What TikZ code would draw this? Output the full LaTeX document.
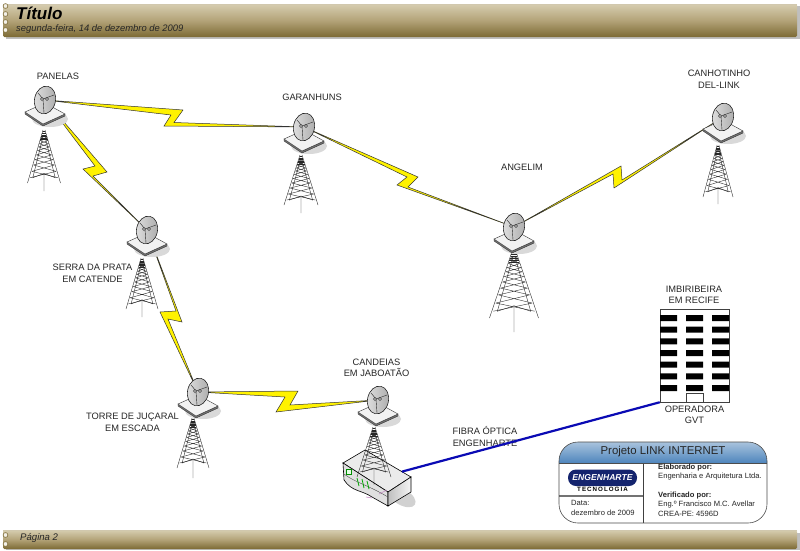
\documentclass[tikz,border=0pt]{standalone}
\usepackage{fontspec}
\setmainfont{Liberation Sans}
\usetikzlibrary{shapes.geometric}
\pgfdeclarelayer{fg}
\pgfsetlayers{main,fg}
\definecolor{txt}{HTML}{262626}
\definecolor{boltyel}{HTML}{FFF200}
\definecolor{bandtop}{HTML}{D6CDB0}
\definecolor{bandmid}{HTML}{B3A378}
\definecolor{bandbot}{HTML}{7C6A34}
\definecolor{lnkblue}{HTML}{0A0AB4}
\definecolor{hdrtop}{HTML}{A9C3DD}
\definecolor{hdrbot}{HTML}{4C84BC}
\definecolor{logoblue}{HTML}{14246E}
\tikzset{
  lbl/.style={font=\fontsize{9.3}{11.5}\selectfont,text=txt,align=center,inner sep=0pt},
  small/.style={font=\fontsize{7.6}{9.2}\selectfont,text=txt,align=left,inner sep=0pt,anchor=west},
  dish/.style={ellipse,draw=black!85,line width=.6pt,minimum width=21pt,minimum height=28pt,inner sep=0pt,
    rotate=-12,left color=gray!25,right color=gray!65},
  boltline/.style={fill=boltyel,draw=black!80,line width=.5pt,line join=miter},
  towerline/.style={draw=black!85,line width=.38pt},
  band/.style={top color=bandtop,bottom color=bandbot,middle color=bandmid,rounded corners=1.5pt},
  ring/.style={draw=bandbot,fill=white!70!bandtop,line width=.6pt},
}
% #1 name, #2 x, #3 y
\newcommand\dishat[3]{%
  \begin{pgfonlayer}{fg}
  \fill[black!15] (#2+5,#3+19) ellipse (18 and 8);
  \filldraw[draw=black!80,fill=black!55,line width=.4pt] (#2-20,#3+12)--(#2-2,#3+24)--(#2+20,#3+14)--(#2+20,#3+16)--(#2-2,#3+26)--(#2-20,#3+14)--cycle;
  \filldraw[draw=black!80,fill=white!95!black,line width=.4pt] (#2-20,#3+12)--(#2,#3+3)--(#2+20,#3+14)--(#2-2,#3+24)--cycle;
  \node[dish] (#1) at (#2,#3) {};
  \draw[black!85,line width=.4pt] (#2-2,#3-1)--(#2-7,#3-7) (#2-2,#3-1)--(#2+9,#3-5) (#2-2,#3-1)--(#2-1,#3+13);
  \draw[black!85,line width=.4pt,fill=white] (#2-3,#3-1) circle (1.5) (#2+2,#3-1) circle (1.5);
  \end{pgfonlayer}}
% #1 apex x, #2 apex y, #3 half width, #4 height, #5 foot below base
\newcommand\towerat[5]{%
  \begin{scope}[shift={(#1,#2)},xscale=#3,yscale=#4]
    \draw[towerline] (-.06,0)--(-1,1) (.06,0)--(1,1) (0,.82)--(0,1+#5/#4);
    \draw[towerline] (-.04,.1)--(-.68,.9)--(0,.82) (.04,.1)--(.68,.9)--(0,.82);
    \foreach \a/\b in {.10/.15,.15/.20,.20/.26,.26/.32,.32/.39,.39/.47,.47/.56,.56/.66,.66/.78,.78/.9}{
      \draw[towerline] (-\a*.88-.05,\a)--(\b*.88+.05,\b) (\a*.88+.05,\a)--(-\b*.88-.05,\b);
    }
    \foreach \a in {.03,.06,.09,.12,.15,.18}{\draw[towerline] (-.06-\a*.88,\a)--(.06+\a*.88,\a);}
  \end{scope}}
% #1 and #2 the two ends; #3 to #6 the four corners of the zigzag
\newcommand\bolt[6]{\draw[boltline] (#1.center)--#3--#4--(#2.center)--#5--#6--cycle;}
\begin{document}
\begin{tikzpicture}[x=1pt,y=-1pt]
\useasboundingbox (0,0) rectangle (800,550);
\fill[white] (0,0) rectangle (800,550);
% header and footer bands
\fill[black!25] (6,6) rectangle (800,39);
\shade[band] (3,4) rectangle (797,37);
\draw[bandmid!60!white,line width=.8pt] (3,4)--(797,4);
\foreach \y in {6,14,22,30}{\draw[ring] (5.5,\y) circle (2.4);}
\node[inner sep=0pt,anchor=west,font=\fontsize{17}{20}\selectfont\bfseries\itshape,text=black] (titulo) at (16,13) {Título};
\node[inner sep=0pt,anchor=west,font=\fontsize{9.4}{11}\selectfont\itshape,text=txt] (data) at (16,29) {segunda-feira, 14 de dezembro de 2009};
\fill[black!25] (6,533) rectangle (800,550);
\shade[band] (3,530) rectangle (797,549);
\draw[bandmid!60!white,line width=.8pt] (3,530)--(797,530);
\foreach \y in {535,544}{\draw[ring] (5.5,\y) circle (2.4);}
\node[inner sep=0pt,anchor=west,font=\fontsize{9.6}{11}\selectfont\itshape,text=txt] (pagina) at (20,538) {Página 2};
% towers
\towerat{44}{130}{16.5}{53}{8}
\towerat{301}{155}{17}{50}{8}
\towerat{514}{250}{24.5}{68}{14}
\towerat{718}{145}{15}{52}{7}
\towerat{142}{258}{16}{51}{8}
\towerat{193}{418}{16}{50}{10}
% dishes
\dishat{panelas}{45}{100}
\dishat{garanhuns}{304}{127}
\dishat{angelim}{514}{227}
\dishat{canhotinho}{723}{117}
\dishat{serra}{147}{230}
\dishat{jucaral}{198}{392}
\dishat{candeias}{378}{400}
% radio links
\bolt{panelas}{garanhuns}{(183,110)}{(174,122.5)}{(164,126)}{(171,115)}
\bolt{garanhuns}{angelim}{(418,177)}{(408,187)}{(397,185)}{(407,177)}
\bolt{angelim}{canhotinho}{(621,166)}{(622,180)}{(614,188)}{(613,174)}
\bolt{panelas}{serra}{(107,172)}{(93,176)}{(83,169)}{(95,166)}
\bolt{serra}{jucaral}{(182,322)}{(168,319)}{(160,312)}{(176,311)}
\bolt{jucaral}{candeias}{(298,391)}{(290,405)}{(276,412)}{(285,397)}
% router
\fill[black!18,rotate around={-30:(402,497)}] (402,497) ellipse (15 and 8);
\filldraw[draw=black,line width=.6pt,fill=white!92!black] (343,463)--(365,450)--(411,477)--(388,492)--cycle;
\filldraw[draw=black,line width=.6pt,fill=black!12] (343,463)--(388,492)--(388,506)--(372,497) .. controls (362,490) and (352,492) .. (344,480)--cycle;
\shade[left color=black!25,right color=black!4,draw=black,line width=.6pt] (388,492)--(411,477)--(411,492)--(388,506)--cycle;
\draw[black!70,line width=.4pt] (344,474) .. controls (356,483) and (366,484) .. (388,497);
\draw[violet!45,line width=.6pt] (366,497)--(372,498) (379,494)--(387,490);
\draw[green!55!black,line width=.6pt,fill=green!10] (346,469) rectangle (351,474);
\draw[green!65!black,line width=.8pt] (357,478)--(359,486) (362,479)--(364,488) (367,481)--(369,489);
\coordinate (router) at (402,471.6);
\towerat{374}{427}{17}{50}{8}
% building
\node[draw=black!75,fill=white,line width=.5pt,minimum width=69pt,minimum height=93pt,inner sep=0pt] (building) at (694.5,355.5) {};
\foreach \y in {315,326.7,338.4,350,361.7,373.4,385}{
  \fill[black] (660,\y) rectangle (677,\y+6) (686,\y) rectangle (703,\y+6) (712,\y) rectangle (729,\y+6);}
\draw[black!75,line width=.5pt] (686,402)--(686,393)--(703,393)--(703,402);
% labels
\node[lbl] (lpan) at (58,76) {PANELAS};
\node[lbl] (lgar) at (312,97) {GARANHUNS};
\node[lbl] (lang) at (522,167) {ANGELIM};
\node[lbl] (lcan) at (719,79) {CANHOTINHO\\DEL-LINK};
\node[lbl] (lser) at (92.5,273.5) {SERRA DA PRATA\\EM CATENDE};
\node[lbl] (ljuc) at (132.5,422.5) {TORRE DE JUÇARAL\\EM ESCADA};
\node[lbl] (lcnd) at (376.5,368) {CANDEIAS\\EM JABOATÃO};
\node[lbl] (limb) at (694,295) {IMBIRIBEIRA\\EM RECIFE};
\node[lbl] (lope) at (694.5,415) {OPERADORA\\GVT};
\node[lbl] (lfib) at (485,436.5) {FIBRA ÓPTICA\\ENGENHARTE};
% fibre link
\draw[lnkblue,line width=2.2pt] (router)--(building.south west);
% title block
\fill[white] (559,442) [rounded corners=19pt] rectangle (767,523);
\begin{scope}
  \clip[rounded corners=19pt] (559,442) rectangle (767,523);
  \shade[top color=hdrtop,bottom color=hdrbot] (559,442) rectangle (767,463.5);
  \draw[black!70,line width=.6pt] (559,463.5)--(767,463.5);
  \draw[black!55,line width=1.1pt] (559,496)--(643,496);
\end{scope}
\draw[black!75,line width=.6pt] (643,463.5)--(643,523);
\draw[black!70,line width=.6pt,rounded corners=19pt] (559,442) rectangle (767,523);
\node[inner sep=0pt,font=\fontsize{11.4}{13}\selectfont,text=txt] (lproj) at (663,452) {Projeto LINK INTERNET};
\node[small] (t1) at (658,468) {\textbf{Elaborado por:}};
\node[small] (t2) at (658,477) {Engenharia e Arquitetura Ltda.};
\node[small] (t3) at (658,496) {\textbf{Verificado por:}};
\node[small] (t4) at (658,505) {Eng.º Francisco M.C. Avellar};
\node[small] (t5) at (658,514) {CREA-PE: 4596D};
\node[small] (t6) at (571,503) {Data:};
\node[small] (t7) at (571,513) {dezembro de 2009};
\fill[logoblue] (568,469.5) [rounded corners=8pt] rectangle (637,486);
\node[inner sep=0pt,font=\fontsize{8.6}{10}\selectfont\bfseries\itshape,text=white] (logo) at (602.5,478) {ENGENHARTE};
\node[inner sep=0pt,font=\fontsize{6.2}{7}\selectfont\bfseries,text=black] (logot) at (602.5,489) {T\,E\,C\,N\,O\,L\,O\,G\,I\,A};
\end{tikzpicture}
\end{document}
